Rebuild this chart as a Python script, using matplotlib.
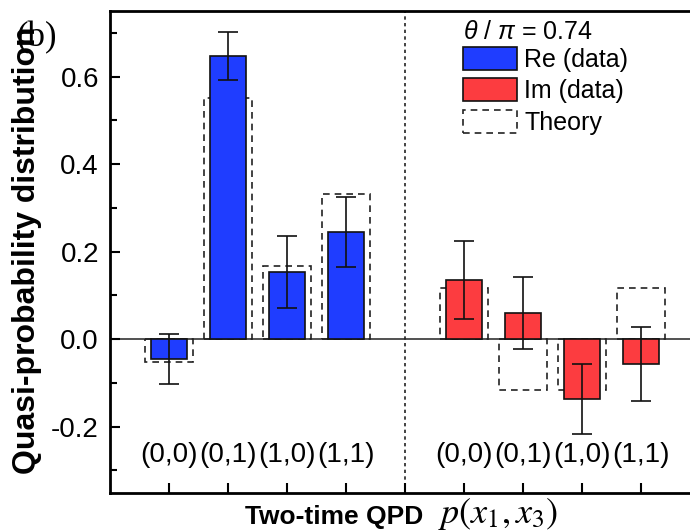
import matplotlib
matplotlib.use("Agg")
import matplotlib.pyplot as plt
import numpy as np
from matplotlib.patches import Patch

plt.rcParams['font.family'] = ['Liberation Sans', 'DejaVu Sans']
plt.rcParams['axes.unicode_minus'] = False
plt.rcParams['mathtext.fontset'] = 'custom'
plt.rcParams['mathtext.rm'] = 'Liberation Sans'
plt.rcParams['mathtext.it'] = 'Liberation Sans:italic'

# data
categories = ["(0,0)", "(0,1)", "(1,0)", "(1,1)"]
re_data = [-0.046, 0.647, 0.153, 0.245]
re_err = [0.057, 0.054, 0.082, 0.080]
re_theory = [-0.053, 0.551, 0.167, 0.331]
im_data = [0.135, 0.060, -0.137, -0.057]
im_err = [0.089, 0.082, 0.079, 0.085]
im_theory = [0.116, -0.117, -0.117, 0.116]
theta_label = "0.74"

blue = "#1f3dff"
red = "#fc3c40"

W, H = 690, 532
fig = plt.figure(figsize=(6.9, 5.32), dpi=100)
ax = fig.add_axes([110/W, 39/H, 590/W, 482/H])

x_re = np.arange(1, 5)
x_im = np.arange(6, 10)

dash = (0, (4, 3))
ax.bar(x_re, re_theory, width=0.8, facecolor='none', edgecolor='#222222',
       linewidth=1.2, linestyle=dash, zorder=2)
ax.bar(x_im, im_theory, width=0.8, facecolor='none', edgecolor='#222222',
       linewidth=1.2, linestyle=dash, zorder=2)
ax.bar(x_re, re_data, width=0.6, color=blue, edgecolor='#111111',
       linewidth=1.2, zorder=3)
ax.bar(x_im, im_data, width=0.6, color=red, edgecolor='#111111',
       linewidth=1.2, zorder=3)
ax.errorbar(x_re, re_data, yerr=re_err, fmt='none', ecolor='#111111',
            elinewidth=1.2, capsize=7, capthick=1.2, zorder=4)
ax.errorbar(x_im, im_data, yerr=im_err, fmt='none', ecolor='#111111',
            elinewidth=1.2, capsize=7, capthick=1.2, zorder=4)

ax.axhline(0, color='#333333', linewidth=1.2, zorder=1)
ax.axvline(5, color='#222222', linewidth=1.2, linestyle=(0, (2, 2)), zorder=1)

for xs in (x_re, x_im):
    for xi, lab in zip(xs, categories):
        ax.text(xi, -0.265, lab, ha='center', va='center', fontsize=20)

ax.set_xlim(0, 10)
ax.set_ylim(-0.352, 0.75)
ax.set_xticks(np.arange(1, 10))
ax.set_xticklabels([])
ax.set_yticks([-0.2, 0.0, 0.2, 0.4, 0.6])
ax.set_yticklabels(["-0.2", "0.0", "0.2", "0.4", "0.6"])
ax.set_yticks(np.arange(-0.3, 0.75, 0.1), minor=True)
ax.tick_params(axis='both', which='major', direction='in', length=7, width=1.5,
               labelsize=20, pad=8)
ax.tick_params(axis='both', which='minor', direction='in', length=5, width=1.5)
ax.tick_params(axis='x', which='minor', bottom=False)
for s in ax.spines.values():
    s.set_linewidth(2)

fig.text(27/W, 1 - 250/H, "Quasi-probability distribution", fontsize=23,
         fontweight='bold', rotation=90, ha='center', va='center')
fig.text(423/W, 1 - 524/H, "Two-time QPD", fontsize=19, fontweight='bold',
         ha='right', va='baseline')
fig.text(438/W, 1 - 523/H, r"$p(x_1, x_3)$", fontsize=26, ha='left',
         va='baseline', math_fontfamily='stix')

fig.text(37/W, 1 - 38/H, "(b)", fontsize=25, family=['Liberation Serif'],
         ha='center', va='center')

handles = [Patch(facecolor=blue, edgecolor='#111111', linewidth=1.2),
           Patch(facecolor=red, edgecolor='#111111', linewidth=1.2),
           Patch(facecolor='none', edgecolor='#222222', linewidth=1.2, linestyle=dash)]
leg = ax.legend(handles, ["Re (data)", "Im (data)", "Theory"],
                title=r"$\theta$ / $\pi$ = " + theta_label,
                loc='upper left', bbox_to_anchor=((463-110)/590, (493-20)/482),
                frameon=False, fontsize=18, title_fontsize=18,
                handlelength=2.16, handleheight=1.05, handletextpad=0.3,
                labelspacing=0.25, borderpad=0, borderaxespad=0, alignment='left')
leg._legend_box.sep = 2

fig.savefig("out.png", dpi=100)
